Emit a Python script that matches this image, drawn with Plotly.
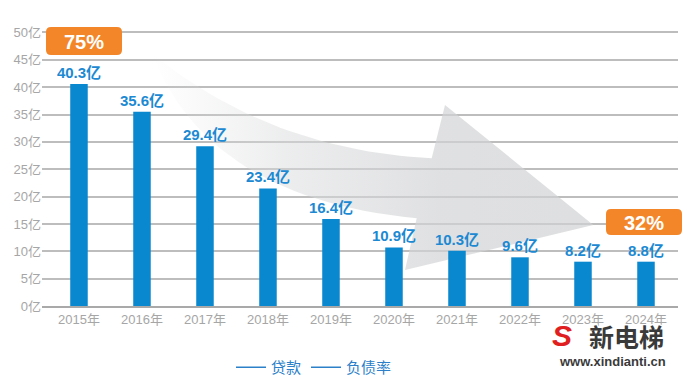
import plotly.graph_objects as go

# ---------------- data ----------------
years = ["2015年", "2016年", "2017年", "2018年", "2019年",
         "2020年", "2021年", "2022年", "2023年", "2024年"]
loan_bars = [40.6, 35.5, 29.2, 21.5, 15.9, 10.7, 10.1, 8.9, 8.1, 8.1]   # bar heights (亿)
loan_labels = ["40.3亿", "35.6亿", "29.4亿", "23.4亿", "16.4亿",
               "10.9亿", "10.3亿", "9.6亿", "8.2亿", "8.8亿"]
debt_ratio_start = "75%"
debt_ratio_end = "32%"
y_ticks = [0, 5, 10, 15, 20, 25, 30, 35, 40, 45, 50]
y_ticktext = [f"{v}亿" for v in y_ticks]
legend_names = ["贷款", "负债率"]

# ---------------- layout geometry ----------------
W, H = 691, 380
L, R, T, B = 42, 13, 27, 74
XR = [-0.587, 9.508]
YR = [0, 51]
PW, PH = W - L - R, H - T - B

def dx(px):
    return XR[0] + (px - L) / PW * (XR[1] - XR[0])

def dy(py):
    return YR[0] + (H - B - py) / PH * (YR[1] - YR[0])

def ppx(px):
    return (px - L) / PW

def ppy(py):
    return (H - B - py) / PH

FONT = "Liberation Sans, Arial, Noto Sans CJK SC, sans-serif"
BLUE = "#0a88cf"
LABEL_BLUE = "#1c89d2"
ORANGE = "#f4862a"
GRAY_TXT = "#a6a6a6"

fig = go.Figure()

# ---------------- decorative curved arrow (base subplot, below bars) ----------------
def qbez(p0, c, p2, n=30):
    pts = []
    for i in range(n + 1):
        t = i / n
        a, b_, cc = (1 - t) ** 2, 2 * t * (1 - t), t ** 2
        pts.append((a * p0[0] + b_ * c[0] + cc * p2[0],
                    a * p0[1] + b_ * c[1] + cc * p2[1]))
    return pts

start = (151.7, 53.3)
notch_up = (431.7, 158.3)
barb_up = (445.0, 105.0)
tip = (593.3, 225.0)
barb_low = (405.0, 270.0)
notch_low = (416.7, 218.3)

poly = qbez(start, (270, 150), notch_up)
poly += [barb_up, tip, barb_low, notch_low]
poly += qbez(notch_low, (208, 198), start)[1:]

fig.add_trace(go.Scatter(
    x=[dx(p[0]) for p in poly], y=[dy(p[1]) for p in poly],
    xaxis="x", yaxis="y",
    mode="lines", line=dict(width=0), fill="toself",
    fillgradient=dict(type="horizontal",
                      colorscale=[[0, "rgba(225,226,228,0)"],
                                  [0.3, "rgba(218,219,221,0.5)"],
                                  [0.65, "rgba(210,211,213,0.7)"],
                                  [1, "rgba(208,209,211,0.7)"]]),
    hoverinfo="skip", showlegend=False))

# ---------------- bars (overlay subplot, above arrow) ----------------
fig.add_trace(go.Bar(
    x=list(range(len(years))), y=loan_bars, width=0.278,
    xaxis="x2", yaxis="y2",
    marker=dict(color=BLUE, line=dict(width=0)),
    text=loan_labels, textposition="outside", constraintext="none",
    textfont=dict(family=FONT, size=15, color=LABEL_BLUE, weight="bold"),
    cliponaxis=False, showlegend=False, hoverinfo="skip"))

# ---------------- legend entries ----------------
for nm in legend_names:
    fig.add_trace(go.Scatter(x=[None], y=[None], mode="lines", name=nm,
                             line=dict(color="#2b80c9", width=1.5)))

# ---------------- orange percentage boxes ----------------
def rrect(x0, y0, x1, y1, r=5):
    X = lambda v: ppx(v)
    Y = lambda v: ppy(v)
    return (f"M {X(x0 + r)},{Y(y0)} L {X(x1 - r)},{Y(y0)} "
            f"Q {X(x1)},{Y(y0)} {X(x1)},{Y(y0 + r)} "
            f"L {X(x1)},{Y(y1 - r)} Q {X(x1)},{Y(y1)} {X(x1 - r)},{Y(y1)} "
            f"L {X(x0 + r)},{Y(y1)} Q {X(x0)},{Y(y1)} {X(x0)},{Y(y1 - r)} "
            f"L {X(x0)},{Y(y0 + r)} Q {X(x0)},{Y(y0)} {X(x0 + r)},{Y(y0)} Z")

boxes = [((46, 27, 122, 55), debt_ratio_start), ((606, 209, 682, 235), debt_ratio_end)]
shapes = []
annotations = []
for (x0, y0, x1, y1), txt in boxes:
    shapes.append(dict(type="path", xref="paper", yref="paper",
                       path=rrect(x0, y0, x1, y1), fillcolor=ORANGE,
                       line=dict(width=0), layer="above"))
    annotations.append(dict(xref="paper", yref="paper",
                            x=ppx((x0 + x1) / 2), y=ppy((y0 + y1) / 2 + 1),
                            text=txt, showarrow=False,
                            font=dict(family=FONT, size=20, color="white", weight="bold"),
                            xanchor="center", yanchor="middle"))

# ---------------- watermark ----------------
annotations.append(dict(xref="paper", yref="paper", x=ppx(562), y=ppy(335),
                        text="<i><b>S</b></i>", showarrow=False,
                        font=dict(family=FONT, size=30, color="#e02020"),
                        xanchor="center", yanchor="middle"))
annotations.append(dict(xref="paper", yref="paper", x=ppx(626), y=ppy(336),
                        text="新电梯", showarrow=False,
                        font=dict(family="Noto Sans CJK SC", size=25, color="#3a3a3a",
                                  weight="bold", shadow="1px 1px 0 #fff, -1px -1px 0 #fff, 1px -1px 0 #fff, -1px 1px 0 #fff"),
                        xanchor="center", yanchor="middle"))
annotations.append(dict(xref="paper", yref="paper", x=ppx(612), y=ppy(361),
                        text="www.xindianti.cn", showarrow=False,
                        font=dict(family=FONT, size=13, color="#3a3a3a", weight="bold",
                                  shadow="1px 1px 0 #fff, -1px -1px 0 #fff"),
                        xanchor="center", yanchor="middle"))

fig.update_layout(
    width=W, height=H,
    margin=dict(l=L, r=R, t=T, b=B, pad=0, autoexpand=False),
    paper_bgcolor="white", plot_bgcolor="white",
    font=dict(family=FONT),
    shapes=shapes, annotations=annotations,
    legend=dict(orientation="h", x=ppx(314), y=ppy(351), xanchor="center", yanchor="top",
                font=dict(size=15, color="#2b80c9", family="Noto Sans CJK SC"),
                itemwidth=30, bgcolor="rgba(0,0,0,0)"),
    xaxis=dict(range=XR, tickvals=list(range(len(years))), ticktext=years,
               showgrid=False, zeroline=False, showline=True, automargin=False,
               linecolor="#a9a9a9", linewidth=2, ticks="",
               tickfont=dict(size=13, color=GRAY_TXT, family=FONT), fixedrange=True),
    yaxis=dict(range=YR, tickvals=y_ticks, ticktext=y_ticktext, automargin=False,
               showgrid=True, gridcolor="#bdbdbd", gridwidth=1.5,
               zeroline=False, showline=False, ticks="",
               tickfont=dict(size=13, color=GRAY_TXT, family=FONT), fixedrange=True),
    xaxis2=dict(range=XR, overlaying="x", visible=False, fixedrange=True),
    yaxis2=dict(range=YR, overlaying="y", visible=False, fixedrange=True),
    bargap=0.7,
)

fig.write_html("out.html", config={"displayModeBar": False},
               post_script="document.body.style.margin='0';document.body.style.overflow='hidden';")
